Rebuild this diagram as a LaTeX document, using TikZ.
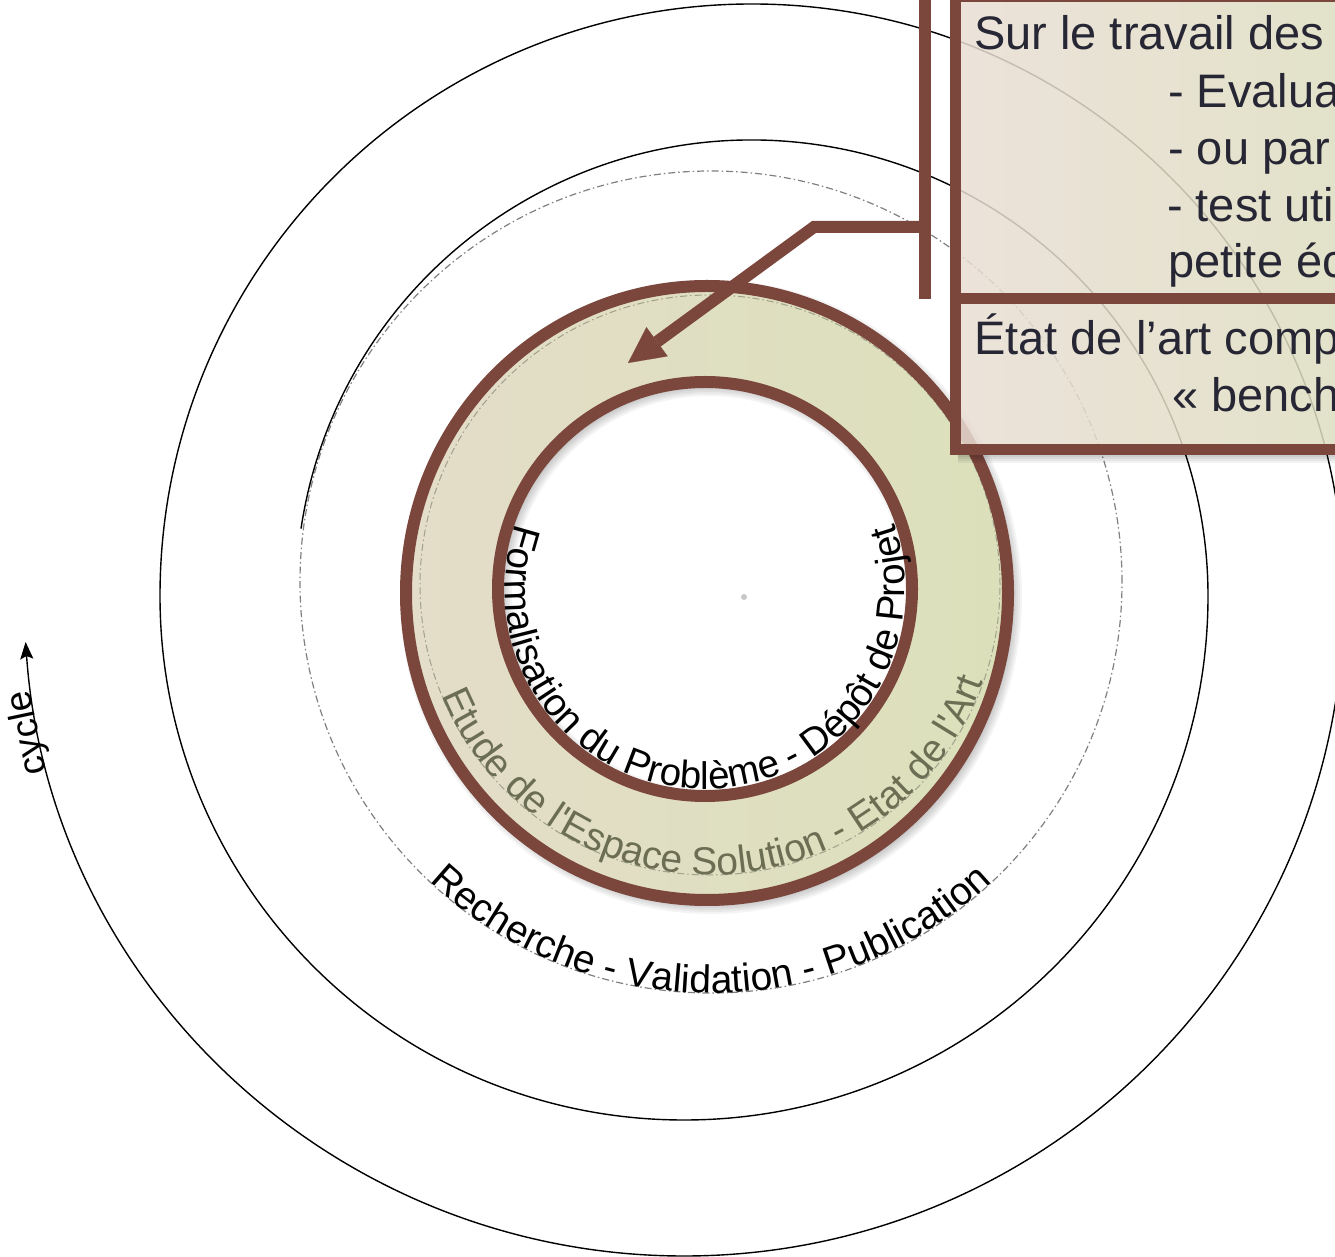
\documentclass[tikz,border=0pt]{standalone}
\usepackage{fontspec}
\setmainfont{Liberation Sans}
\newfontfamily\plainsans{Liberation Sans}
\usetikzlibrary{arrows.meta,decorations.text}
\definecolor{ringbrown}{RGB}{123,70,60}
\definecolor{ringbeige}{RGB}{228,221,201}
\definecolor{ringgreen}{RGB}{219,224,186}
\definecolor{boxpink}{RGB}{233,221,212}
\definecolor{boxgreen}{RGB}{222,222,192}
\definecolor{boxtext}{RGB}{38,38,52}
\definecolor{etudecol}{RGB}{108,110,84}
\definecolor{dashgray}{RGB}{128,128,128}
\definecolor{ringdash}{RGB}{160,160,140}
\newcommand\myringfont{\plainsans\fontsize{38.5}{40}\selectfont}
\newcommand\myetudefont{\plainsans\fontsize{39}{42}\selectfont}
\newcommand\myrechfont{\plainsans\fontsize{39}{42}\selectfont}
\newcommand\myboxfont{\fontsize{47}{52}\selectfont}
\begin{document}
\begin{tikzpicture}[x=1pt,y=1pt,
  spiral/.style={line width=1.4pt, black},
  dashdot/.style={line width=1.2pt, dash pattern=on 7pt off 3pt on 1.5pt off 3pt},
  brownline/.style={draw=ringbrown, line width=12pt},
  boxtxt/.style={text=boxtext, font=\myboxfont, anchor=base west, inner sep=0pt},
]
\useasboundingbox (0,0) rectangle (1335,1256);
\fill[white] (0,0) rectangle (1335,1256);

% outer dash-dot circle
\draw[dashdot, dashgray] (711,674) circle[radius=411];

% spiral
\draw[spiral, -{Stealth[length=17pt,width=13pt,inset=3pt]}]
  (752,660) ++(171.5:456) arc[start angle=171.5, end angle=0, radius=456]
  arc[start angle=0, end angle=-180, radius=524]
  arc[start angle=180, end angle=0, radius=592]
  arc[start angle=0, end angle=-176, radius=660];
\node[font=\plainsans\fontsize{37}{40}\selectfont, rotate=102, anchor=base, inner sep=0pt]
  (cyclelbl) at ([shift={(191.8:660)}]684,660) {cycle};

% ring shadow
\foreach \d in {0,2,4,6,8} {
  \fill[black, opacity=0.045, even odd rule]
    (711,659) ellipse[x radius=303+\d, y radius=309+\d]
    (709,663) circle[radius=205-\d];
}
% ring fill
\shade[left color=ringbeige, right color=ringgreen, even odd rule]
  (707,663) ellipse[x radius=301, y radius=307]
  (705,667) circle[radius=207];
\draw[dashdot, ringdash, line width=1pt] (710,671) circle[radius=290];
\draw[brownline] (707,663) ellipse[x radius=301, y radius=307];
\draw[brownline] (705,667) circle[radius=207];
\fill[black!22] (744,659) circle[radius=3];

% ring texts
\path[decorate, decoration={text along path, text align=center,
  text={|\myringfont|Formalisation du Problème - Dépôt de Projet}}]
  (705,667) ++(150:200) arc[start angle=150, end angle=390, radius=200];
\path[decorate, decoration={text along path, text align=center,
  text={|\color{etudecol}\myetudefont|Etude de l'Espace Solution - Etat de l'Art}}]
  (710,671) ++(183:290) arc[start angle=183, end angle=360, radius=290];
\path[decorate, decoration={text along path, text align=center,
  text={|\myrechfont|Recherche - Validation - Publication}}]
  (711,674) ++(200:411) arc[start angle=200, end angle=340, radius=411];

% callout shadow
\foreach \d in {2,4,6,8} {
  \fill[black, opacity=0.05] (958,801-\d) rectangle (1335,801);
}
% callout box
\shade[left color=boxpink, right color=boxgreen, fill opacity=0.85]
  (955,806) rectangle (1345,1259);
\draw[ringbrown, line width=11pt] (955,806) rectangle (1345,1259);
\draw[ringbrown, line width=11pt] (955,957) -- (1345,957);

\node[boxtxt] (t1) at (974,1206) {Sur le travail des};
\node[boxtxt] (t2) at (1168,1148) {- Evalua};
\node[boxtxt] (t3) at (1168,1091) {- ou par};
\node[boxtxt] (t4) at (1167,1034) {- test uti};
\node[boxtxt] (t5) at (1168,978) {petite éc};
\node[boxtxt] (t6) at (974,901) {État de l’art comp};
\node[boxtxt] (t7) at (1172,844) {« bench};

% bracket and connector
\coordinate (brTop) at (925,1262);
\coordinate (brBot) at (925,957);
\coordinate (brMid) at (925,1029);
\coordinate (bend) at (814,1029);
\coordinate (tip) at (628,893);
\draw[ringbrown, line width=12pt] (brTop) -- (brBot);
\draw[ringbrown, line width=12pt, line join=miter,
  -{Triangle[length=36pt,width=36pt,line width=0.1pt]}] (brMid) -- (bend) -- (tip);
\end{tikzpicture}
\end{document}
